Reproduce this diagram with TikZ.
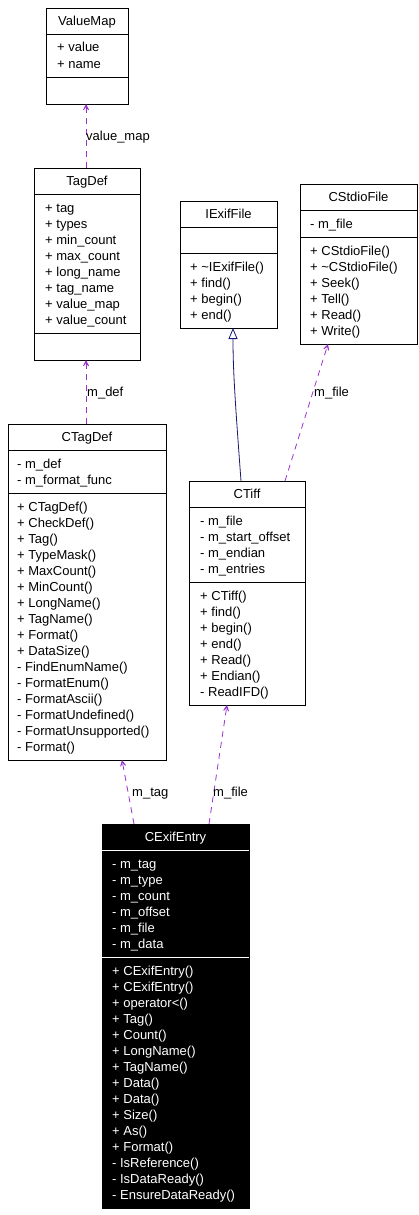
\documentclass[tikz,border=0pt]{standalone}
\usepackage{fontspec}
\setmainfont{Liberation Sans}
\usetikzlibrary{arrows.meta}
\definecolor{depc}{HTML}{9A32CD}
\definecolor{inhc}{HTML}{191970}
\newcommand\dxf{\fontsize{13}{16}\selectfont}
% name, x, y, w, h, extra style
\newcommand\classbox[6]{\node[cls, minimum width=#4pt, minimum height=#5pt, #6] (#1) at (#2,#3) {};}
% name, offset from top, colour
\newcommand\divider[3]{\draw[draw=#3, line width=0.8pt] ([yshift=-#2pt]#1.north west) -- ([yshift=-#2pt]#1.north east);}
% prefix, x, first centre y, style, list
\newcommand\mlist[5]{\foreach \t [count=\i from 0] in {#5} {\node[mem, #4] (#1-\i) at (#2, #3+4.5+16*\i) {\t};}}
\begin{document}
\begin{tikzpicture}[x=1pt, y=-1pt,
  cls/.style={draw=black, line width=0.8pt, anchor=north west, inner sep=0, outer sep=0, fill=white},
  mem/.style={anchor=base west, inner sep=0, font=\dxf},
  ttl/.style={anchor=base, inner sep=0, font=\dxf},
  lbl/.style={anchor=base west, inner sep=0, font=\dxf},
  dep/.style={draw=depc, line width=0.8pt, dash pattern=on 6pt off 5pt, -{Stealth[length=10pt,width=10pt,inset=7pt]}},
  inh/.style={draw=inhc, line width=0.8pt, -{Triangle[open,length=11pt,width=9pt,fill=white]}}]
\useasboundingbox (0,0) rectangle (419,1215);

% ---------- boxes ----------
\classbox{valuemap}{46}{8}{82}{96}{}
\divider{valuemap}{26}{black}\divider{valuemap}{69}{black}
\node[ttl] (valuemap-t) at (87,25.5) {ValueMap};
\mlist{valuemap-a}{57}{47.5}{}{+ value, + name}

\classbox{tagdef}{34}{168}{106}{192}{}
\divider{tagdef}{26}{black}\divider{tagdef}{165}{black}
\node[ttl] (tagdef-t) at (87,185.5) {TagDef};
\mlist{tagdef-a}{45}{207.5}{}{+ tag, + types, + min\_count, + max\_count, + long\_name, + tag\_name, + value\_map, + value\_count}

\classbox{iexif}{180}{201}{97}{127}{}
\divider{iexif}{26}{black}\divider{iexif}{52}{black}
\node[ttl] (iexif-t) at (228.5,218.5) {IExifFile};
\mlist{iexif-m}{190}{266.5}{}{+ \textasciitilde IExifFile(), + find(), + begin(), + end()}

\classbox{cstdio}{300}{184}{117}{160}{}
\divider{cstdio}{26}{black}\divider{cstdio}{53}{black}
\node[ttl] (cstdio-t) at (358.5,201.5) {CStdioFile};
\mlist{cstdio-a}{310}{223.5}{}{- m\_file}
\mlist{cstdio-m}{310}{250.5}{}{+ CStdioFile(), + \textasciitilde CStdioFile(), + Seek(), + Tell(), + Read(), + Write()}

\classbox{ctagdef}{8}{424}{158}{336}{}
\divider{ctagdef}{26}{black}\divider{ctagdef}{69}{black}
\node[ttl] (ctagdef-t) at (87,441.5) {CTagDef};
\mlist{ctagdef-a}{17}{463.5}{}{- m\_def, - m\_format\_func}
\mlist{ctagdef-m}{17}{506.5}{}{+ CTagDef(), + CheckDef(), + Tag(), + TypeMask(), + MaxCount(), + MinCount(), + LongName(), + TagName(), + Format(), + DataSize(), - FindEnumName(), - FormatEnum(), - FormatAscii(), - FormatUndefined(), - FormatUnsupported(), - Format()}

\classbox{ctiff}{189}{481}{116}{224}{}
\divider{ctiff}{26}{black}\divider{ctiff}{101}{black}
\node[ttl] (ctiff-t) at (247,498.5) {CTiff};
\mlist{ctiff-a}{200}{520.5}{}{- m\_file, - m\_start\_offset, - m\_endian, - m\_entries}
\mlist{ctiff-m}{200}{595.5}{}{+ CTiff(), + find(), + begin(), + end(), + Read(), + Endian(), - ReadIFD()}

\classbox{cexif}{102}{824}{147}{384}{fill=black}
\divider{cexif}{26}{white}\divider{cexif}{133}{white}
\node[ttl, text=white] (cexif-t) at (175.5,841.5) {CExifEntry};
\mlist{cexif-a}{112}{863.5}{text=white}{- m\_tag, - m\_type, - m\_count, - m\_offset, - m\_file, - m\_data}
\mlist{cexif-m}{112}{970.5}{text=white}{+ CExifEntry(), + CExifEntry(), + operator<(), + Tag(), + Count(), + LongName(), + TagName(), + Data(), + Data(), + Size(), + As(), + Format(), - IsReference(), - IsDataReady(), - EnsureDataReady()}

% ---------- connectors ----------
\draw[dep] ([xshift=52pt]tagdef.north west) -- ([xshift=40pt]valuemap.south west);
\node[lbl] (l-valuemap) at (86,140.5) {value\_map};

\draw[dep] ([xshift=78pt]ctagdef.north west) -- ([xshift=52pt]tagdef.south west);
\node[lbl] (l-mdef) at (87,396) {m\_def};

\draw[inh] ([xshift=52pt]ctiff.north west) .. controls (235,400) and (233,370) .. ([xshift=53pt]iexif.south west);

\draw[dep] ([xshift=96pt]ctiff.north west) -- ([xshift=28pt]cstdio.south west);
\node[lbl] (l-mfile1) at (314,396) {m\_file};

\draw[dep] ([xshift=32pt]cexif.north west) -- ([xshift=114pt]ctagdef.south west);
\node[lbl] (l-mtag) at (132,796) {m\_tag};

\draw[dep] ([xshift=107pt]cexif.north west) -- ([xshift=38pt]ctiff.south west);
\node[lbl] (l-mfile2) at (213,796) {m\_file};
\end{tikzpicture}
\end{document}
